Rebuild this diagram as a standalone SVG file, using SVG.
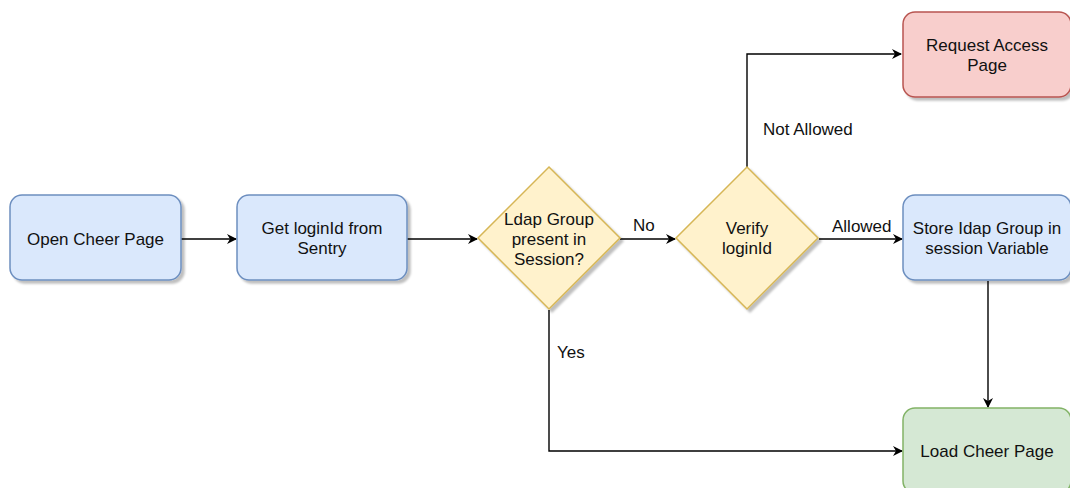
<svg xmlns="http://www.w3.org/2000/svg" width="1070" height="488" viewBox="0 0 1070 488">
<defs>
<filter id="sh" x="-10%" y="-10%" width="130%" height="130%">
<feDropShadow dx="3" dy="3" stdDeviation="1.2" flood-color="#000" flood-opacity="0.25"/>
</filter>
<marker id="ah" viewBox="0 0 10 10" refX="9" refY="5" markerWidth="10" markerHeight="10" markerUnits="userSpaceOnUse" orient="auto">
<path d="M0,0 L10,5 L0,10 L3,5 Z" fill="#000"/>
</marker>
</defs>
<style>
.t{font-family:"Liberation Sans",Arial,sans-serif;font-size:17px;fill:#111;text-anchor:middle;}
.l{font-family:"Liberation Sans",Arial,sans-serif;font-size:17px;fill:#111;}
.blue{fill:#dae8fc;stroke:#6c8ebf;stroke-width:1.5;filter:url(#sh);}
.yel{fill:#fff2cc;stroke:#d6b656;stroke-width:1.5;filter:url(#sh);}
.red{fill:#f8cecc;stroke:#b85450;stroke-width:1.5;filter:url(#sh);}
.grn{fill:#d5e8d4;stroke:#82b366;stroke-width:1.5;filter:url(#sh);}
.c{fill:none;stroke:#000;stroke-width:1.4;marker-end:url(#ah);}
</style>
<rect width="1070" height="488" fill="#fff"/>
<g id="connectors">
<path class="c" d="M181,239 L236,239"/>
<path class="c" d="M407,239 L477,239"/>
<path class="c" d="M620,239 L675,239"/>
<path class="c" d="M819,239 L902,239"/>
<path class="c" d="M747,167 L747,54 L901,54"/>
<path class="c" d="M988,281 L988,407"/>
<path class="c" d="M549,310 L549,451 L902,451"/>
<text class="l" x="633" y="231">No</text>
<text class="l" x="832" y="232">Allowed</text>
<text class="l" x="763" y="135">Not Allowed</text>
<text class="l" x="557" y="358">Yes</text>
</g>
<g id="open">
<rect class="blue" x="10" y="195" width="171" height="85" rx="12"/>
<text class="t" x="95.5" y="245">Open Cheer Page</text>
</g>
<g id="getlogin">
<rect class="blue" x="237" y="195" width="170" height="85" rx="12"/>
<text class="t" x="322" y="234">Get loginId from</text>
<text class="t" x="322" y="254">Sentry</text>
</g>
<g id="ldap">
<path class="yel" d="M549,167 L620,238 L549,309 L478,238 Z"/>
<text class="t" x="549" y="225">Ldap Group</text>
<text class="t" x="549" y="245">present in</text>
<text class="t" x="549" y="265">Session?</text>
</g>
<g id="verify">
<path class="yel" d="M747,167 L818,238 L747,309 L676,238 Z"/>
<text class="t" x="747" y="234">Verify</text>
<text class="t" x="747" y="254">loginId</text>
</g>
<g id="request">
<rect class="red" x="903" y="12" width="168" height="85" rx="12"/>
<text class="t" x="987" y="51">Request Access</text>
<text class="t" x="987" y="71">Page</text>
</g>
<g id="store">
<rect class="blue" x="903" y="195" width="168" height="85" rx="12"/>
<text class="t" x="987" y="234">Store Idap Group in</text>
<text class="t" x="987" y="254">session Variable</text>
</g>
<g id="load">
<rect class="grn" x="903" y="408" width="168" height="85" rx="12"/>
<text class="t" x="987" y="457">Load Cheer Page</text>
</g>
</svg>
